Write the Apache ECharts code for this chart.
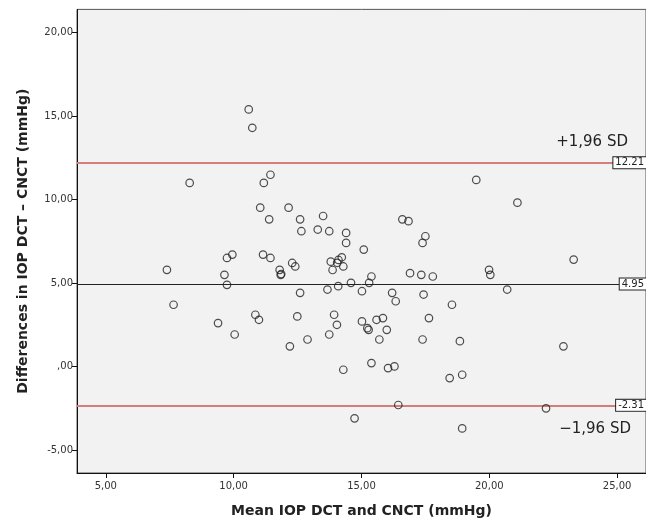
<!DOCTYPE html>
<html>
<head>
<meta charset="utf-8">
<script src="https://cdn.jsdelivr.net/npm/echarts@6/dist/echarts.min.js"></script>
<style>
html,body{margin:0;padding:0;background:#fff;}
#chart{width:646px;height:524px;}
</style>
</head>
<body>
<div id="chart"></div>
<script>
// Mean of the two methods (x) and their difference (y)
const meanIOP = [10.59,10.73,8.28,11.44,11.18,19.49,21.10,11.04,12.15,11.39,13.50,12.60,12.65,13.29,13.74,14.40,14.40,16.60,16.84,17.50,17.39,15.09,9.95,9.74,11.15,11.44,7.39,9.64,9.74,7.65,9.39,10.04,10.85,10.99,11.80,11.84,11.86,12.29,12.41,12.60,12.49,12.20,12.89,13.67,14.09,13.80,13.87,14.10,14.23,14.05,14.29,14.59,13.93,14.04,13.74,14.29,15.02,15.30,15.39,15.02,15.23,15.28,15.39,15.59,15.84,15.70,15.99,16.20,16.34,16.04,16.29,16.44,14.73,16.90,17.34,17.79,17.43,17.64,17.39,18.54,18.85,18.45,18.94,18.94,19.99,20.04,20.70,22.90,23.30,22.22];
const diffIOP = [15.40,14.30,11.00,11.49,11.00,11.18,9.82,9.52,9.52,8.82,9.02,8.82,8.11,8.21,8.11,8.01,7.41,8.82,8.71,7.81,7.41,7.01,6.71,6.51,6.71,6.51,5.80,5.50,4.90,3.71,2.61,1.93,3.11,2.81,5.80,5.50,5.55,6.21,6.00,4.42,3.01,1.22,1.63,4.62,4.82,6.29,5.79,6.39,6.55,6.22,6.00,5.02,3.11,2.51,1.93,-0.18,4.52,5.02,5.40,2.71,2.31,2.21,0.22,2.81,2.91,1.63,2.21,4.42,3.92,-0.08,0.02,-2.29,-3.09,5.60,5.50,5.40,4.32,2.91,1.63,3.71,1.53,-0.68,-0.48,-3.69,5.80,5.50,4.62,1.22,6.41,-2.49];

const meanDiff = 4.95;
const upperLoA = 12.21;
const lowerLoA = -2.31;
const upperText = '+1,96 SD';
const lowerText = '\u22121,96 SD';

const xTicks = [5, 10, 15, 20, 25];
const yTicks = [-5, 0, 5, 10, 15, 20];
const xTitle = 'Mean IOP DCT and CNCT (mmHg)';
const yTitle = 'Differences in IOP DCT \u2013 CNCT (mmHg)';

function spssFmt(v) {
  if (Math.abs(v) < 1e-9) return ',00';
  return v.toFixed(2).replace('.', ',');
}

const points = meanIOP.map((x, i) => [x, diffIOP[i]]);

const boxLabel = {
  show: true,
  position: 'insideEnd',
  distance: 0,
  formatter: p => String(p.value.toFixed(2)),
  backgroundColor: '#fff',
  borderColor: '#222',
  borderWidth: 1,
  padding: [0, 2, 0, 2],
  color: '#222',
  fontFamily: 'DejaVu Sans',
  fontSize: 10,
  lineHeight: 11
};

const chart = echarts.init(document.getElementById('chart'), null, {renderer: 'canvas'});
chart.setOption({
  animation: false,
  backgroundColor: '#ffffff',
  grid: {
    left: 77, top: 9.4, width: 571, bottom: 51,
    show: true, backgroundColor: '#f2f2f2', borderColor: '#555', borderWidth: 1
  },
  xAxis: {
    type: 'value', min: 3.873, max: 26.13,
    name: xTitle, nameLocation: 'middle', nameGap: 31,
    nameTextStyle: {fontFamily: 'DejaVu Sans', fontWeight: 'bold', fontSize: 14, color: '#222'},
    axisLine: {show: true, onZero: false, lineStyle: {color: '#111', width: 1}},
    axisTick: {show: true, length: 5, customValues: xTicks, lineStyle: {color: '#111'}},
    axisLabel: {show: true, customValues: xTicks, formatter: spssFmt, margin: 8,
      fontFamily: 'DejaVu Sans', fontSize: 10, color: '#333'},
    splitLine: {show: false}
  },
  yAxis: {
    type: 'value', min: -6.36, max: 21.385,
    name: yTitle, nameLocation: 'middle', nameGap: 47, nameRotate: 90,
    nameTextStyle: {fontFamily: 'DejaVu Sans', fontWeight: 'bold', fontSize: 14, color: '#222'},
    axisLine: {show: true, onZero: false, lineStyle: {color: '#111', width: 1}},
    axisTick: {show: true, length: 5, customValues: yTicks, lineStyle: {color: '#111'}},
    axisLabel: {show: true, customValues: yTicks, formatter: spssFmt, margin: 4,
      fontFamily: 'DejaVu Sans', fontSize: 10, color: '#333'},
    splitLine: {show: false}
  },
  series: [
    {
      type: 'scatter',
      data: points,
      symbol: 'circle',
      symbolSize: 7.5,
      itemStyle: {color: 'rgba(0,0,0,0)', borderColor: '#222', borderWidth: 1.2},
      z: 5,
      markLine: {
        silent: true,
        symbol: 'none',
        animation: false,
        data: [
          {yAxis: upperLoA, lineStyle: {color: '#d67c7c', width: 1.8, type: 'solid'}, label: boxLabel},
          {yAxis: lowerLoA, lineStyle: {color: '#d67c7c', width: 1.8, type: 'solid'}, label: boxLabel},
          {yAxis: meanDiff, lineStyle: {color: '#222', width: 1, type: 'solid'}, label: boxLabel},
          {name: 'upperSD', yAxis: upperLoA, lineStyle: {color: 'rgba(0,0,0,0)', width: 0}, label: {
            show: true, position: 'insideEndTop', distance: [18, 13], formatter: upperText,
            fontFamily: 'DejaVu Sans', fontSize: 15, color: '#222', opacity: 1}},
          {name: 'lowerSD', yAxis: lowerLoA, lineStyle: {color: 'rgba(0,0,0,0)', width: 0}, label: {
            show: true, position: 'insideEndBottom', distance: [15, 16], formatter: lowerText,
            fontFamily: 'DejaVu Sans', fontSize: 15, color: '#222', opacity: 1}}
        ]
      }
    }
  ]
});
</script>
</body>
</html>
